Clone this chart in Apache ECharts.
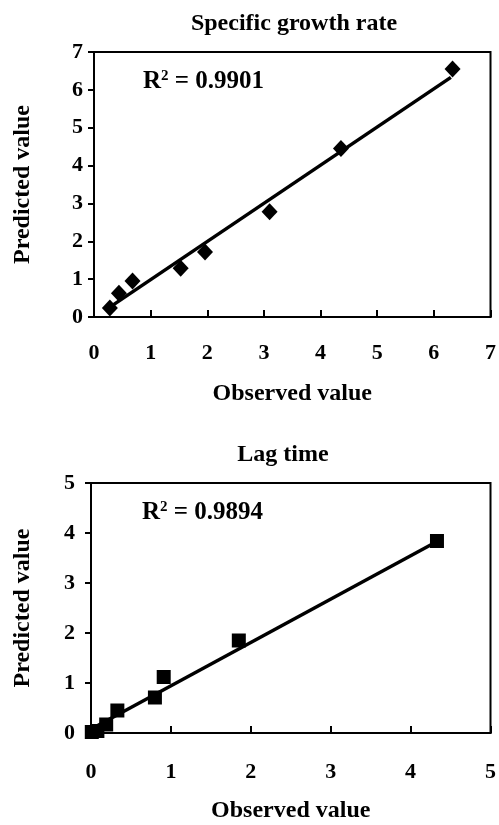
<!DOCTYPE html>
<html>
<head>
<meta charset="utf-8">
<script src="https://cdn.jsdelivr.net/npm/echarts@6/dist/echarts.min.js"></script>
<style>
  html, body { margin: 0; padding: 0; background: #fff; }
  #chart { width: 499px; height: 825px; }
</style>
</head>
<body>
<div id="chart"></div>
<script>
// --- DATEN ---
// Specific growth rate: observed vs. predicted
const growthObserved = [0.28, 0.44, 0.68, 1.53, 1.96, 3.10, 4.36, 6.33];
const growthPredicted = [0.24, 0.63, 0.95, 1.29, 1.72, 2.78, 4.45, 6.55];
const growthFitX = [0.30, 6.30];
const growthFitY = [0.28, 6.33];
const growthR2 = '0.9901';

// Lag time: observed vs. predicted
const lagObserved = [0.01, 0.08, 0.19, 0.33, 0.80, 0.91, 1.85, 4.33];
const lagPredicted = [0.02, 0.04, 0.17, 0.45, 0.71, 1.12, 1.85, 3.84];
const lagFitX = [0.05, 4.33];
const lagFitY = [0.12, 3.83];
const lagR2 = '0.9894';

const titles = ['Specific growth rate', 'Lag time'];
const axisMax = [7, 5];

// --- HILFSFUNKTIONEN ---
const FONT = 'Liberation Serif';
const zip = (xs, ys) => xs.map((x, i) => [x, ys[i]]);

const chart = echarts.init(document.getElementById('chart'), null, { renderer: 'canvas' });

function xAxisFor(idx, margin, gap) {
    return {
        gridIndex: idx,
        type: 'value',
        min: 0,
        max: axisMax[idx],
        interval: 1,
        name: 'Observed value',
        nameLocation: 'middle',
        nameGap: gap,
        nameTextStyle: { fontFamily: FONT, fontWeight: 'bold', fontSize: 24, color: '#000' },
        axisLine: { show: true, lineStyle: { color: '#000', width: 2 } },
        axisTick: { show: true, inside: true, length: 7, lineStyle: { color: '#000', width: 2 } },
        axisLabel: { margin: margin, fontFamily: FONT, fontWeight: 'bold', fontSize: 22, color: '#000' },
        splitLine: { show: false }
    };
}

function yAxisFor(idx, margin, gap) {
    return {
        gridIndex: idx,
        type: 'value',
        min: 0,
        max: axisMax[idx],
        interval: 1,
        name: 'Predicted value',
        nameLocation: 'middle',
        nameGap: gap,
        nameTextStyle: { fontFamily: FONT, fontWeight: 'bold', fontSize: 24, color: '#000' },
        axisLine: { show: true, lineStyle: { color: '#000', width: 2 } },
        axisTick: { show: true, inside: false, length: 6, lineStyle: { color: '#000', width: 2 } },
        axisLabel: { margin: margin, fontFamily: FONT, fontWeight: 'bold', fontSize: 22, color: '#000' },
        splitLine: { show: false }
    };
}

function r2Title(value, left, top) {
    return {
        text: '{a|R}{s|2}{a| = ' + value + '}',
        left: left,
        top: top,
        textStyle: {
            rich: {
                a: { fontFamily: FONT, fontWeight: 'bold', fontSize: 25, color: '#000', verticalAlign: 'bottom' },
                s: { fontFamily: FONT, fontWeight: 'bold', fontSize: 15, color: '#000', verticalAlign: 'top', padding: [0, 0, 8, 0] }
            }
        }
    };
}

chart.setOption({
    backgroundColor: '#fff',
    animation: false,
    title: [
        { text: titles[0], left: 289, top: 7, textAlign: 'center',
          textStyle: { fontFamily: FONT, fontWeight: 'bold', fontSize: 24, color: '#000' } },
        { text: titles[1], left: 278, top: 438, textAlign: 'center',
          textStyle: { fontFamily: FONT, fontWeight: 'bold', fontSize: 24, color: '#000' } },
        r2Title(growthR2, 138, 64),
        r2Title(lagR2, 137, 495)
    ],
    grid: [
        { left: 94, top: 52, width: 398, height: 265, show: true, borderColor: '#000', borderWidth: 2, backgroundColor: 'transparent' },
        { left: 91, top: 483, width: 401, height: 250, show: true, borderColor: '#000', borderWidth: 2, backgroundColor: 'transparent' }
    ],
    xAxis: [xAxisFor(0, 25, 65), xAxisFor(1, 28, 66)],
    yAxis: [yAxisFor(0, 11, 59), yAxisFor(1, 16, 56)],
    series: [
        {
            name: 'Growth fit', type: 'line', xAxisIndex: 0, yAxisIndex: 0,
            data: zip(growthFitX, growthFitY), symbol: 'none',
            lineStyle: { color: '#000', width: 3.5 }, z: 2
        },
        {
            name: 'Growth', type: 'scatter', xAxisIndex: 0, yAxisIndex: 0,
            data: zip(growthObserved, growthPredicted), symbol: 'diamond', symbolSize: [16, 17],
            itemStyle: { color: '#000', opacity: 1 }, z: 3
        },
        {
            name: 'Lag fit', type: 'line', xAxisIndex: 1, yAxisIndex: 1,
            data: zip(lagFitX, lagFitY), symbol: 'none',
            lineStyle: { color: '#000', width: 3.5 }, z: 2
        },
        {
            name: 'Lag', type: 'scatter', xAxisIndex: 1, yAxisIndex: 1,
            data: zip(lagObserved, lagPredicted), symbol: 'rect', symbolSize: 14,
            itemStyle: { color: '#000', opacity: 1 }, z: 3
        }
    ]
});

window.addEventListener('resize', () => chart.resize());
</script>
</body>
</html>
